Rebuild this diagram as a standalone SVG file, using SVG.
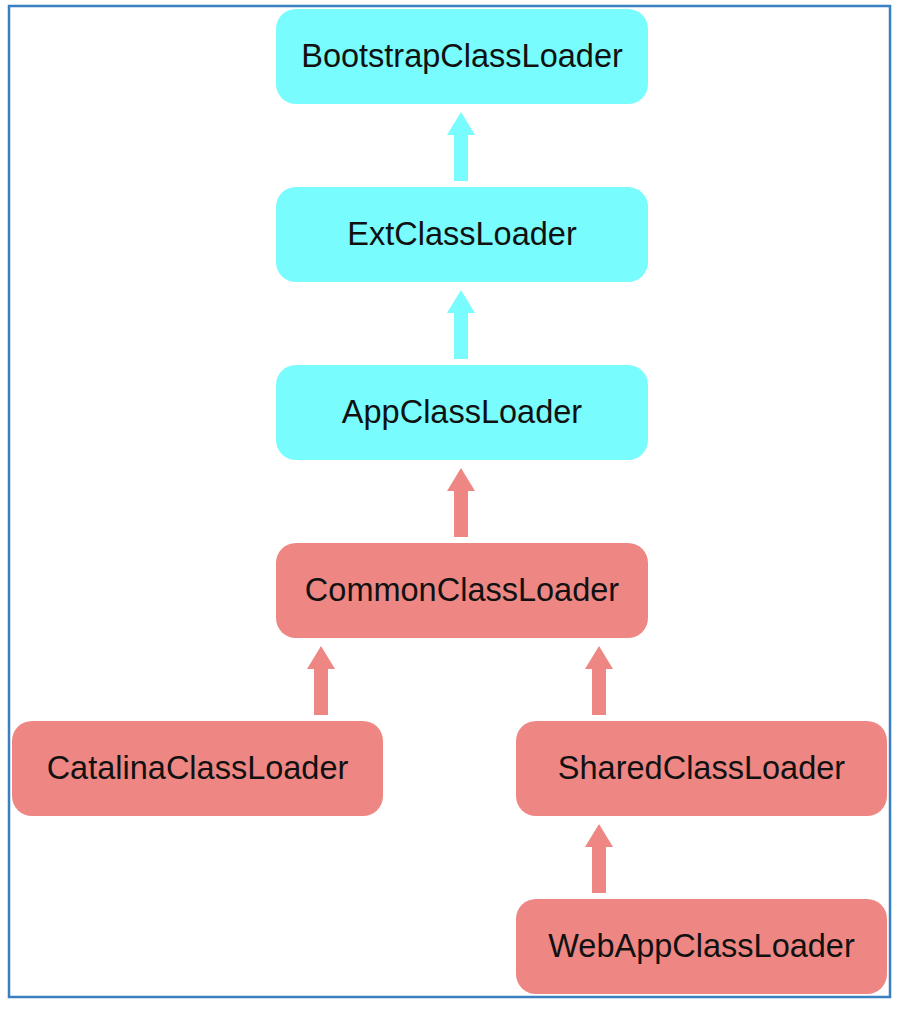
<svg xmlns="http://www.w3.org/2000/svg" width="906" height="1010" viewBox="0 0 906 1010">
  <style>
    .cyan { fill: #78fcfd; }
    .red { fill: #ee8783; }
    .lbl { font-family: "Liberation Sans", Arial, sans-serif; font-size: 32.5px; fill: #111111; text-anchor: middle; }
  </style>
  <defs>
    <path id="arrow" d="M -7 0 L -7 -46 L -14 -46 L 0 -69 L 14 -46 L 7 -46 L 7 0 Z"/>
  </defs>
  <rect x="0" y="0" width="906" height="1010" fill="#ffffff"/>
  <rect x="9" y="6" width="881" height="991" fill="none" stroke="#3a7fc0" stroke-width="2.5"/>

  <g id="connectors">
    <use href="#arrow" class="cyan" x="461" y="181"/>
    <use href="#arrow" class="cyan" x="461" y="359"/>
    <use href="#arrow" class="red" x="461" y="537"/>
    <use href="#arrow" class="red" x="321" y="715"/>
    <use href="#arrow" class="red" x="599" y="715"/>
    <use href="#arrow" class="red" x="599" y="893"/>
  </g>

  <g id="bootstrap">
    <rect class="cyan" x="276" y="9" width="372" height="95" rx="20"/>
    <text class="lbl" x="462" y="67">BootstrapClassLoader</text>
  </g>
  <g id="ext">
    <rect class="cyan" x="276" y="187" width="372" height="95" rx="20"/>
    <text class="lbl" x="462" y="245">ExtClassLoader</text>
  </g>
  <g id="app">
    <rect class="cyan" x="276" y="365" width="372" height="95" rx="20"/>
    <text class="lbl" x="462" y="423">AppClassLoader</text>
  </g>
  <g id="common">
    <rect class="red" x="276" y="543" width="372" height="95" rx="20"/>
    <text class="lbl" x="462" y="601">CommonClassLoader</text>
  </g>
  <g id="catalina">
    <rect class="red" x="12" y="721" width="371" height="95" rx="20"/>
    <text class="lbl" x="197.5" y="779">CatalinaClassLoader</text>
  </g>
  <g id="shared">
    <rect class="red" x="516" y="721" width="371" height="95" rx="20"/>
    <text class="lbl" x="701.5" y="779">SharedClassLoader</text>
  </g>
  <g id="webapp">
    <rect class="red" x="516" y="899" width="371" height="95" rx="20"/>
    <text class="lbl" x="701.5" y="957">WebAppClassLoader</text>
  </g>
</svg>
